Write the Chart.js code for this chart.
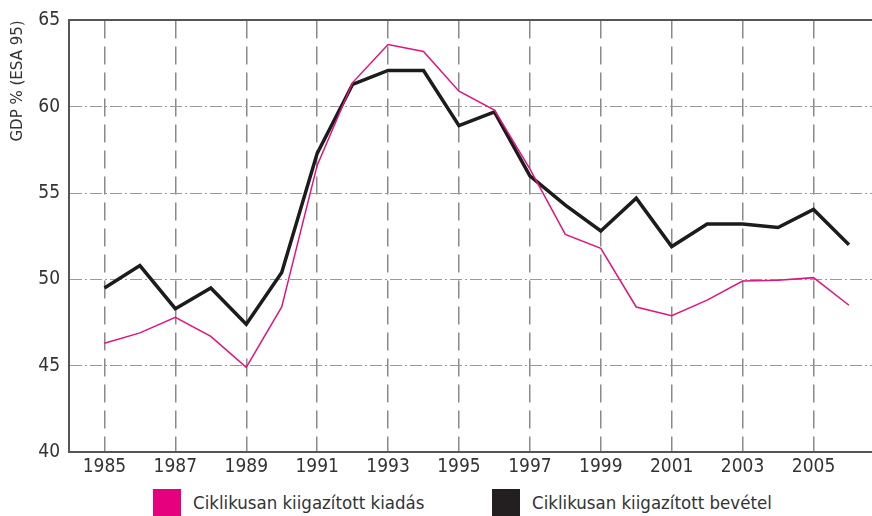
<!DOCTYPE html>
<html>
<head>
<meta charset="utf-8">
<script src="https://cdn.jsdelivr.net/npm/chart.js@4.4.0/dist/chart.umd.min.js"></script>
<style>
  html, body { margin: 0; padding: 0; background: #fff; }
  #wrap { position: relative; width: 872px; height: 516px; overflow: hidden; }
  #box { position: absolute; left: 0; top: 0; width: 872px; height: 482px; }
  #legend { position: absolute; left: 0; top: 489px; width: 872px; height: 30px;
    font-family: 'Liberation Sans Narrow', 'DejaVu Sans Condensed', sans-serif; font-size: 18.5px; color: #333; }
  .item { position: absolute; top: 0; height: 28px; line-height: 28px; white-space: nowrap; }
  .sw { display: inline-block; width: 28px; height: 28px; vertical-align: top; margin-right: 12px; }
</style>
</head>
<body>
<div id="wrap">
  <div id="box"><canvas id="myChart"></canvas></div>
  <div id="legend"></div>
</div>
<script>
var years = [1985, 1986, 1987, 1988, 1989, 1990, 1991, 1992, 1993, 1994, 1995,
             1996, 1997, 1998, 1999, 2000, 2001, 2002, 2003, 2004, 2005, 2006];
var kiadas = [46.3, 46.9, 47.8, 46.7, 44.9, 48.4, 56.6, 61.4, 63.6, 63.2, 60.9,
              59.8, 56.4, 52.6, 51.8, 48.4, 47.9, 48.8, 49.9, 49.95, 50.1, 48.5];
var bevetel = [49.5, 50.8, 48.3, 49.5, 47.4, 50.4, 57.3, 61.3, 62.1, 62.1, 58.9,
               59.7, 56.0, 54.3, 52.8, 54.7, 51.9, 53.2, 53.2, 53.0, 54.05, 52.0];
var xTicks = [1985, 1987, 1989, 1991, 1993, 1995, 1997, 1999, 2001, 2003, 2005];
var yTicks = [40, 45, 50, 55, 60, 65];
var seriesNames = ['Ciklikusan kiigazított kiadás', 'Ciklikusan kiigazított bevétel'];

var tickFont = "'Liberation Sans Narrow', 'DejaVu Sans Condensed', sans-serif";

function toPoints(vals)
{
	var pts = [];
	for (var i = 0; i < years.length; i++) {
		pts.push({x: years[i], y: vals[i]});
	}
	return pts;
}

var ctx = document.getElementById('myChart').getContext('2d');
var myChart = new Chart(ctx, {
	type: 'line',
	data: {
		datasets: [{
			label: seriesNames[0],
			data: toPoints(kiadas),
			borderColor: '#e0147f',
			backgroundColor: '#e6007e',
			borderWidth: 1.5,
			pointRadius: 0,
			tension: 0
		}, {
			label: seriesNames[1],
			data: toPoints(bevetel),
			borderColor: '#1c1c1c',
			backgroundColor: '#231f20',
			borderWidth: 3.5,
			pointRadius: 0,
			tension: 0
		}]
	},
	options: {
		responsive: true,
		maintainAspectRatio: false,
		animation: false,
		layout: { padding: { top: 18, right: 0, bottom: 0, left: 0 } },
		plugins: {
			legend: { display: false },
			tooltip: { enabled: false }
		},
		scales: {
			x: {
				type: 'linear',
				min: 1984,
				max: 2006.65,
				afterBuildTicks: function(scale) {
					scale.ticks = xTicks.map(function(v) { return {value: v}; });
				},
				afterFit: function(scale) { scale.height = 30; },
				ticks: {
					color: '#333',
					font: { family: tickFont, size: 19 },
					padding: 4,
					maxRotation: 0,
					autoSkip: false,
					callback: function(v) { return String(v); }
				},
				grid: { color: '#8a8a8a', lineWidth: 1.5, drawTicks: false },
				border: { display: true, color: '#555', width: 2, dash: [18, 8] }
			},
			xTop: {
				type: 'linear',
				position: 'top',
				min: 1984,
				max: 2006.65,
				afterFit: function(scale) { scale.height = 0; },
				ticks: { display: false },
				grid: { display: false, drawTicks: false },
				border: { display: true, color: '#555', width: 2 }
			},
			y: {
				min: 40,
				max: 65,
				afterBuildTicks: function(scale) {
					scale.ticks = yTicks.map(function(v) { return {value: v}; });
				},
				afterFit: function(scale) { scale.width = 69; },
				ticks: {
					color: '#333',
					font: { family: tickFont, size: 19 },
					padding: 9
				},
				grid: {
					drawTicks: false,
					lineWidth: 1,
					color: function(c) {
						if (c.tick && (c.tick.value === 40 || c.tick.value === 65)) return 'rgba(0,0,0,0)';
						return '#999';
					}
				},
				border: { display: true, color: '#555', width: 2, dash: [12, 3, 2, 3] },
				title: {
					display: true,
					text: 'GDP % (ESA 95)',
					align: 'end',
					color: '#333',
					font: { family: "'DejaVu Sans', sans-serif", size: 15 },
					padding: { top: 9, bottom: 0 }
				}
			}
		}
	}
});

// legend as html, built from the chart's datasets
var legendPos = [153, 492];
var leg = document.getElementById('legend');
myChart.data.datasets.forEach(function(ds, i) {
	var item = document.createElement('div');
	item.className = 'item';
	item.style.left = legendPos[i] + 'px';
	var sw = document.createElement('span');
	sw.className = 'sw';
	sw.style.background = ds.backgroundColor;
	item.appendChild(sw);
	item.appendChild(document.createTextNode(ds.label));
	leg.appendChild(item);
});
</script>
</body>
</html>
